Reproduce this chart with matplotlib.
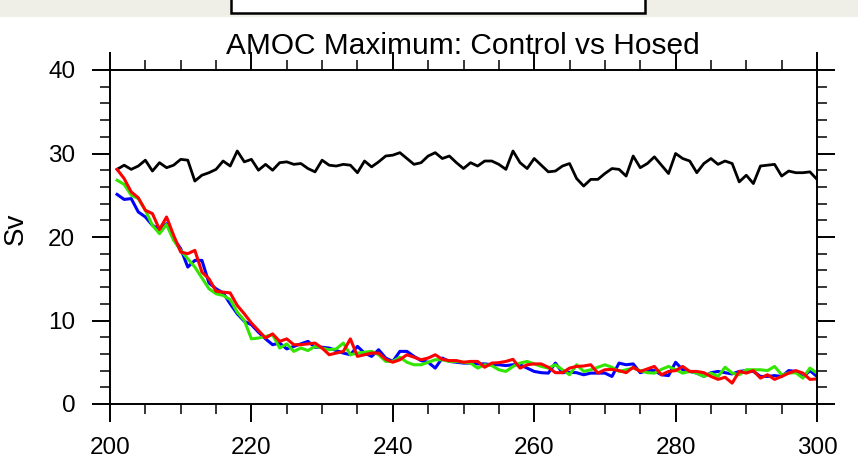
import numpy as np
import matplotlib
matplotlib.use("Agg")
import matplotlib.pyplot as plt
from matplotlib.ticker import MultipleLocator
from matplotlib.patches import Rectangle

plt.rcParams['font.family'] = ['Liberation Sans', 'DejaVu Sans']

years = list(range(201, 301))

control = [28.1, 28.6, 28.1, 28.5, 29.2, 27.9, 28.9, 28.3, 28.6, 29.3,
           29.2, 26.7, 27.4, 27.7, 28.1, 29.1, 28.5, 30.3, 29.0, 29.3,
           28.0, 28.7, 28.0, 28.9, 29.0, 28.7, 28.8, 28.2, 27.8, 29.2,
           28.6, 28.5, 28.7, 28.6, 27.7, 29.1, 28.4, 29.0, 29.7, 29.8,
           30.1, 29.4, 28.7, 28.9, 29.7, 30.1, 29.4, 29.7, 28.9, 28.2,
           28.9, 28.5, 29.1, 29.1, 28.7, 28.1, 30.3, 28.9, 28.2, 29.4,
           28.6, 27.8, 27.9, 28.5, 28.8, 27.0, 26.1, 26.9, 26.9, 27.6,
           28.2, 28.1, 27.3, 29.7, 28.3, 28.8, 29.6, 28.6, 27.6, 30.0,
           29.4, 29.1, 27.7, 28.8, 29.4, 28.7, 29.1, 28.8, 26.6, 27.4,
           26.4, 28.5, 28.6, 28.7, 27.3, 27.9, 27.7, 27.7, 27.8, 26.9]

hosed_blue = [25.1, 24.5, 24.6, 23.0, 22.4, 21.4, 20.9, 21.6, 19.8, 18.6,
              16.4, 17.2, 17.2, 14.5, 13.8, 13.3, 12.0, 10.8, 9.9, 9.5,
              8.6, 7.8, 7.1, 7.3, 6.6, 6.9, 7.2, 7.5, 6.8, 6.8,
              6.7, 6.4, 6.1, 5.9, 6.9, 6.1, 5.7, 6.5, 5.5, 5.1,
              6.3, 6.3, 5.7, 5.2, 5.0, 4.3, 5.5, 5.1, 5.0, 4.9,
              4.9, 4.8, 4.8, 4.7, 4.7, 4.6, 4.7, 4.7, 4.3, 3.9,
              3.75, 3.7, 4.9, 3.75, 3.8, 3.75, 3.5, 3.7, 3.7, 3.7,
              3.3, 4.9, 4.7, 4.8, 3.75, 4.0, 4.0, 3.5, 3.4, 5.0,
              4.1, 3.9, 3.7, 3.3, 3.75, 3.9, 3.75, 3.6, 3.9, 4.0,
              3.9, 3.3, 3.3, 3.4, 3.3, 4.0, 3.9, 3.2, 4.0, 3.3]

hosed_green = [26.8, 26.3, 25.0, 24.6, 23.2, 21.4, 20.4, 21.5, 19.6, 18.4,
               17.4, 16.4, 15.1, 13.8, 13.2, 13.0, 12.5, 11.0, 10.0, 7.8,
               7.9, 8.1, 8.3, 6.7, 7.2, 6.3, 6.7, 6.4, 6.9, 6.7,
               6.5, 6.6, 7.3, 5.9, 6.1, 6.2, 6.3, 5.9, 5.1, 5.1,
               5.6, 5.0, 4.7, 4.7, 5.0, 5.3, 5.3, 5.1, 5.1, 5.0,
               4.9, 4.3, 4.7, 4.6, 4.1, 3.9, 4.5, 4.9, 5.1, 4.8,
               4.5, 4.3, 4.7, 4.1, 3.5, 4.7, 3.9, 4.1, 4.4, 4.7,
               4.4, 3.9, 4.1, 4.3, 4.0, 3.75, 3.7, 4.15, 4.5, 4.1,
               3.7, 3.9, 3.7, 3.3, 3.7, 3.3, 4.4, 3.7, 3.5, 4.1,
               4.1, 4.1, 4.0, 4.5, 3.5, 3.7, 3.75, 3.1, 4.3, 3.7]

hosed_red = [28.1, 27.0, 25.4, 24.7, 23.2, 22.8, 20.9, 22.4, 20.2, 18.2,
             18.0, 18.4, 15.8, 15.0, 13.5, 13.4, 13.3, 11.8, 10.8, 9.7,
             8.8, 7.9, 8.4, 7.5, 7.8, 7.1, 7.1, 7.2, 7.3, 6.7,
             5.9, 6.1, 6.3, 7.8, 5.7, 5.9, 6.1, 6.1, 5.35, 5.0,
             5.3, 5.9, 5.6, 5.3, 5.5, 5.9, 5.35, 5.2, 5.2, 5.0,
             5.1, 5.1, 4.4, 4.9, 4.95, 5.1, 5.35, 4.3, 4.7, 4.8,
             4.8, 4.4, 3.75, 3.75, 4.3, 4.5, 4.55, 4.7, 3.7, 4.1,
             4.15, 4.0, 3.75, 4.4, 3.9, 4.2, 4.5, 3.5, 3.9, 4.0,
             4.5, 3.9, 3.9, 3.75, 3.3, 2.95, 3.2, 2.5, 3.9, 3.7,
             4.0, 3.1, 3.5, 2.95, 3.3, 3.7, 4.0, 3.7, 2.95, 3.0]

W, H = 858, 475
fig = plt.figure(figsize=(W / 100, H / 100), dpi=100)
fig.patch.set_facecolor('white')

# strip of the page above the plot
fig.patches.append(Rectangle((0, 1 - 17 / H), 1, 17 / H, transform=fig.transFigure,
                             facecolor='#efeee7', edgecolor='none', zorder=0))
fig.patches.append(Rectangle((231 / W, 1 - 13 / H), 414 / W, 20 / H,
                             transform=fig.transFigure, facecolor='white',
                             edgecolor='black', lw=1.8, zorder=1))

ax = fig.add_axes([110 / W, 1 - 404 / H, 707 / W, 334 / H])

ax.plot(years, control, color='black', lw=2.0)
ax.plot(years, hosed_blue, color='#0000ff', lw=2.2)
ax.plot(years, hosed_green, color='#33e600', lw=2.2)
ax.plot(years, hosed_red, color='#ff0000', lw=2.2)

ax.set_xlim(200, 300)
ax.set_ylim(0, 40)
ax.xaxis.set_major_locator(MultipleLocator(20))
ax.xaxis.set_minor_locator(MultipleLocator(5))
ax.yaxis.set_major_locator(MultipleLocator(10))
ax.yaxis.set_minor_locator(MultipleLocator(2))

for s in ax.spines.values():
    s.set_linewidth(1.4)
ax.tick_params(which='both', direction='out', top=True, right=True, width=1.4)
ax.tick_params(which='major', length=13)
ax.tick_params(which='minor', length=7, width=1.1)
ax.tick_params(axis='x', which='major', labelsize=17.5, pad=11)
ax.tick_params(axis='y', which='major', labelsize=17.5, pad=12)

fig.text(463 / W, 1 - 54 / H, 'AMOC Maximum: Control vs Hosed', ha='center',
         va='baseline', fontsize=21.5)
fig.text(16 / W, 1 - 229 / H, 'Sv', rotation=90, ha='center', va='center',
         fontsize=20)

fig.savefig('out.png', dpi=100)
